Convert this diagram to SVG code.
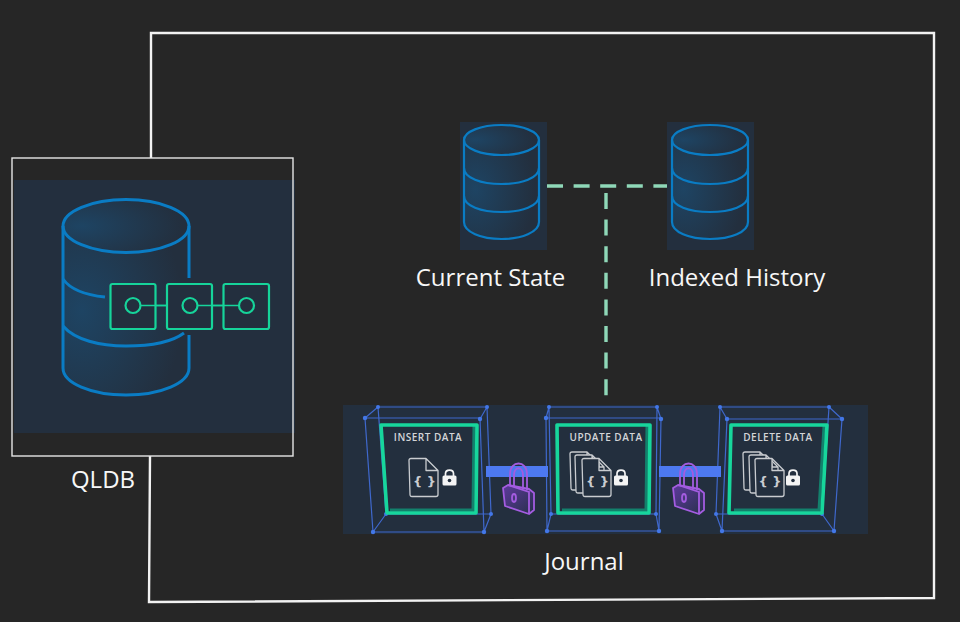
<svg xmlns="http://www.w3.org/2000/svg" xmlns:xlink="http://www.w3.org/1999/xlink" width="960" height="622" viewBox="0 0 960 622">
<style>
.label{font-family:"Open Sans","Noto Sans",sans-serif;font-size:24px;fill:#f7f7f7;text-anchor:middle}
.card{font-family:"Open Sans","Noto Sans",sans-serif;font-size:10px;font-weight:600;fill:#d3d5d8;text-anchor:middle;letter-spacing:.5px}
.frame{fill:none;stroke:#f2f2f2;stroke-width:2.400}
.panel{fill:#232f3e}
.dbl{fill:none;stroke:#0a7cc4}
.chain{fill:#232f3e;stroke:#16d49a;stroke-width:2.200}
.cl{fill:none;stroke:#16d49a;stroke-width:1.400}
.wire{fill:none;stroke:#3f68cc;stroke-width:1.200}
.g{fill:none;stroke:#17d69c;stroke-width:3.600;stroke-linejoin:round}
.gs{fill:none;stroke:#13806c;stroke-width:3;stroke-linejoin:round}
.doc{fill:#232f3e;stroke:#c9ccd0;stroke-width:1.300;stroke-linejoin:round}
.dash{fill:none;stroke:#8fd8b8;stroke-width:3.400;stroke-dasharray:16 10.600}
.bar{fill:#4d79f0}
.lk{fill:url(#lockfill);stroke:#a35ce0;stroke-width:1.800;stroke-linejoin:round}
.sh{fill:none;stroke:#a35ce0;stroke-width:1.800}
.dot{fill:#4377e8}
.cb{font-family:"DejaVu Sans","Liberation Sans",sans-serif;font-size:13px;font-weight:700;fill:#c9ccd0;text-anchor:middle}
</style>
<defs>
<radialGradient id="dbfill" cx="0.15" cy="0.5" r="0.8"><stop offset="0" stop-color="#1e4463"/><stop offset="1" stop-color="#232f3e"/></radialGradient>
<linearGradient id="lockfill" x1="0" y1="0" x2="1" y2="1"><stop offset="0" stop-color="#5d3a9c"/><stop offset="1" stop-color="#27304a"/></linearGradient>
<g id="padlock">
<path class="lk" d="M0 10 L5 7 L26 11 L31 15 L31 32 L26 36 L2 28 Z"/>
<path class="sh" d="M5 7 L26 14 L26 36"/>
<path class="sh" d="M7 8 V-4 C7 -18 24 -18 24 -4 V12"/>
<path class="sh" d="M11 8 V-3 C11 -12 20 -12 20 -3 V11"/>
<ellipse class="sh" cx="11" cy="20" rx="2" ry="4"/>
</g>
<g id="mini">
<rect x="0" y="5.500" width="14" height="10" rx="1.500" fill="#f4f4f4"/>
<path d="M3 6 V3.500 C3 -1 11 -1 11 3.500 V6" fill="none" stroke="#f4f4f4" stroke-width="1.700"/>
<circle cx="7" cy="10.500" r="1.800" fill="#232f3e"/>
</g>
<path id="docshape" class="doc" d="M0 2 Q0 0 2 0 H17 L29 12 V36 Q29 38 27 38 H3 Q1 38 1 36 Z M17 0 V12 H29"/>
</defs>
<rect width="960" height="622" fill="#262626"/>
<path class="frame" d="M151 158 L151 33 L934 33 L934 598 L149 602 L150 456"/>

<g id="connectors">
<path class="dash" d="M547 186 H669"/>
<path class="dash" d="M606 193 V396"/>
</g>

<g id="qldb">
<rect class="panel" x="14" y="180" width="281" height="253"/>
<rect x="12" y="158" width="281" height="298" fill="none" stroke="#e6e6e6" stroke-width="1.400"/>
<path d="M63 226 V368 C63 383 91 395 126 395 C161 395 189 383 189 368 V226 Z" fill="url(#dbfill)"/>
<ellipse cx="126" cy="226" rx="63" ry="26.500" fill="url(#dbfill)" stroke="#0a7cc4" stroke-width="3"/>
<path class="dbl" stroke-width="3" d="M63 226 V368 C63 383 91 395 126 395 C161 395 189 383 189 368 V335"/>
<path class="dbl" stroke-width="3" d="M189 226 V278"/>
<path class="dbl" stroke-width="3" d="M63 279 C70 289 85 295 105 297"/>
<path class="dbl" stroke-width="3" d="M63 326 C75 340 100 346 126 346 C150 346 172 342 184 333"/>
<path class="cl" d="M141 305.500 H167 M212 305.500 H238"/>
<rect class="chain" x="110.500" y="284" width="45" height="45" rx="2"/>
<rect class="chain" x="167" y="284" width="45" height="45" rx="2"/>
<rect class="chain" x="223.500" y="284" width="45.500" height="45" rx="2"/>
<path class="cl" d="M141 305.500 H167 M197 305.500 H223.500 M212 305.500 H238"/>
<circle class="chain" cx="133" cy="305.500" r="7.500"/>
<circle class="chain" cx="190" cy="305.500" r="7.500"/>
<circle class="chain" cx="246.500" cy="305.500" r="7.500"/>
<text class="label" x="103" y="488">QLDB</text>
</g>

<g id="current-state">
<rect class="panel" x="460" y="122" width="87" height="128"/>
<path d="M464 140 V222 C464 232 481 239 501.500 239 C522 239 539 232 539 222 V140 Z" fill="url(#dbfill)"/>
<ellipse cx="501.500" cy="140" rx="37.500" ry="15" fill="url(#dbfill)" stroke="#0a7cc4" stroke-width="2.200"/>
<path class="dbl" stroke-width="2.200" d="M464 140 V222 C464 232 481 239 501.500 239 C522 239 539 232 539 222 V140"/>
<path class="dbl" stroke-width="2.200" d="M464 168 C464 178 481 184 501.500 184 C522 184 539 178 539 168"/>
<path class="dbl" stroke-width="2.200" d="M464 196 C464 206 481 212 501.500 212 C522 212 539 206 539 196"/>
<text class="label" x="490.500" y="286">Current State</text>
</g>

<g id="indexed-history">
<rect class="panel" x="667" y="122" width="87" height="128"/>
<path d="M672 140 V222 C672 232 689 239 710 239 C731 239 748 232 748 222 V140 Z" fill="url(#dbfill)"/>
<ellipse cx="710" cy="140" rx="38" ry="15" fill="url(#dbfill)" stroke="#0a7cc4" stroke-width="2.200"/>
<path class="dbl" stroke-width="2.200" d="M672 140 V222 C672 232 689 239 710 239 C731 239 748 232 748 222 V140"/>
<path class="dbl" stroke-width="2.200" d="M672 168 C672 178 689 184 710 184 C731 184 748 178 748 168"/>
<path class="dbl" stroke-width="2.200" d="M672 196 C672 206 689 212 710 212 C731 212 748 206 748 196"/>
<text class="label" x="737" y="286">Indexed History</text>
</g>

<g id="journal">
<rect class="panel" x="343" y="405" width="525" height="129"/>
<text class="label" x="584" y="570">Journal</text>
</g>

<g id="insert-data">
<path class="wire" d="M365 418 H480 L484 532 H373 Z M378 407 H487 L491 514 H386 Z M365 418 L378 407 M480 419 L487 407 M484 532 L491 514 M373 532 L386 514"/>
<g class="dot"><circle cx="365" cy="418" r="2.200"/><circle cx="480" cy="419" r="2.200"/><circle cx="484" cy="532" r="2.200"/><circle cx="373" cy="532" r="2.200"/><circle cx="378" cy="407" r="2"/><circle cx="487" cy="407" r="2"/><circle cx="491" cy="514" r="2"/><circle cx="386" cy="514" r="2"/></g>
<path class="gs" d="M474 426 L473 510 H390"/>
<path class="g" d="M381 425 H477 L476 513 H387 Z"/>
<text class="card" x="428" y="441">INSERT DATA</text>
<use xlink:href="#docshape" href="#docshape" x="409" y="458.500"/>
<text class="cb" x="424.500" y="486">{ }</text>
<use xlink:href="#mini" href="#mini" x="442.500" y="470"/>
</g>

<g id="update-data">
<path class="wire" d="M546 418 H661 L659 531 H547 Z M549 407 H657 L656 514 H551 Z M546 418 L549 407 M661 419 L657 407 M659 531 L656 514 M547 531 L551 514"/>
<g class="dot"><circle cx="546" cy="418" r="2.200"/><circle cx="661" cy="419" r="2.200"/><circle cx="659" cy="531" r="2.200"/><circle cx="547" cy="531" r="2.200"/><circle cx="549" cy="407" r="2"/><circle cx="657" cy="407" r="2"/><circle cx="656" cy="514" r="2"/><circle cx="551" cy="514" r="2"/></g>
<path class="gs" d="M647 426 L646 510 H562"/>
<path class="g" d="M557 425 H650 L649 513 H558 Z"/>
<text class="card" x="606" y="441">UPDATE DATA</text>
<use xlink:href="#docshape" href="#docshape" x="570" y="452"/>
<use xlink:href="#docshape" href="#docshape" x="575" y="455"/>
<use xlink:href="#docshape" href="#docshape" x="582" y="458.500"/>
<text class="cb" x="597.500" y="486">{ }</text>
<use xlink:href="#mini" href="#mini" x="614" y="470"/>
</g>

<g id="delete-data">
<path class="wire" d="M727 419 H842 L834 531 H722 Z M720 407 H829 L822 514 H716 Z M727 419 L720 407 M842 419 L829 407 M834 531 L822 514 M722 531 L716 514"/>
<g class="dot"><circle cx="727" cy="419" r="2.200"/><circle cx="842" cy="419" r="2.200"/><circle cx="834" cy="531" r="2.200"/><circle cx="722" cy="531" r="2.200"/><circle cx="720" cy="407" r="2"/><circle cx="829" cy="407" r="2"/><circle cx="822" cy="514" r="2"/><circle cx="716" cy="514" r="2"/></g>
<path class="gs" d="M824 426 L819 510 H734"/>
<path class="g" d="M731 425 H827 L822 513 H729 Z"/>
<text class="card" x="778" y="441">DELETE DATA</text>
<use xlink:href="#docshape" href="#docshape" x="743" y="452"/>
<use xlink:href="#docshape" href="#docshape" x="749" y="455"/>
<use xlink:href="#docshape" href="#docshape" x="755" y="458.500"/>
<text class="cb" x="770" y="486">{ }</text>
<use xlink:href="#mini" href="#mini" x="786" y="470"/>
</g>

<g id="link-1">
<rect class="bar" x="486" y="466" width="62" height="11"/>
<use xlink:href="#padlock" href="#padlock" x="503" y="478"/>
</g>
<g id="link-2">
<rect class="bar" x="659" y="466" width="62" height="11"/>
<use xlink:href="#padlock" href="#padlock" x="673" y="478"/>
</g>
</svg>
